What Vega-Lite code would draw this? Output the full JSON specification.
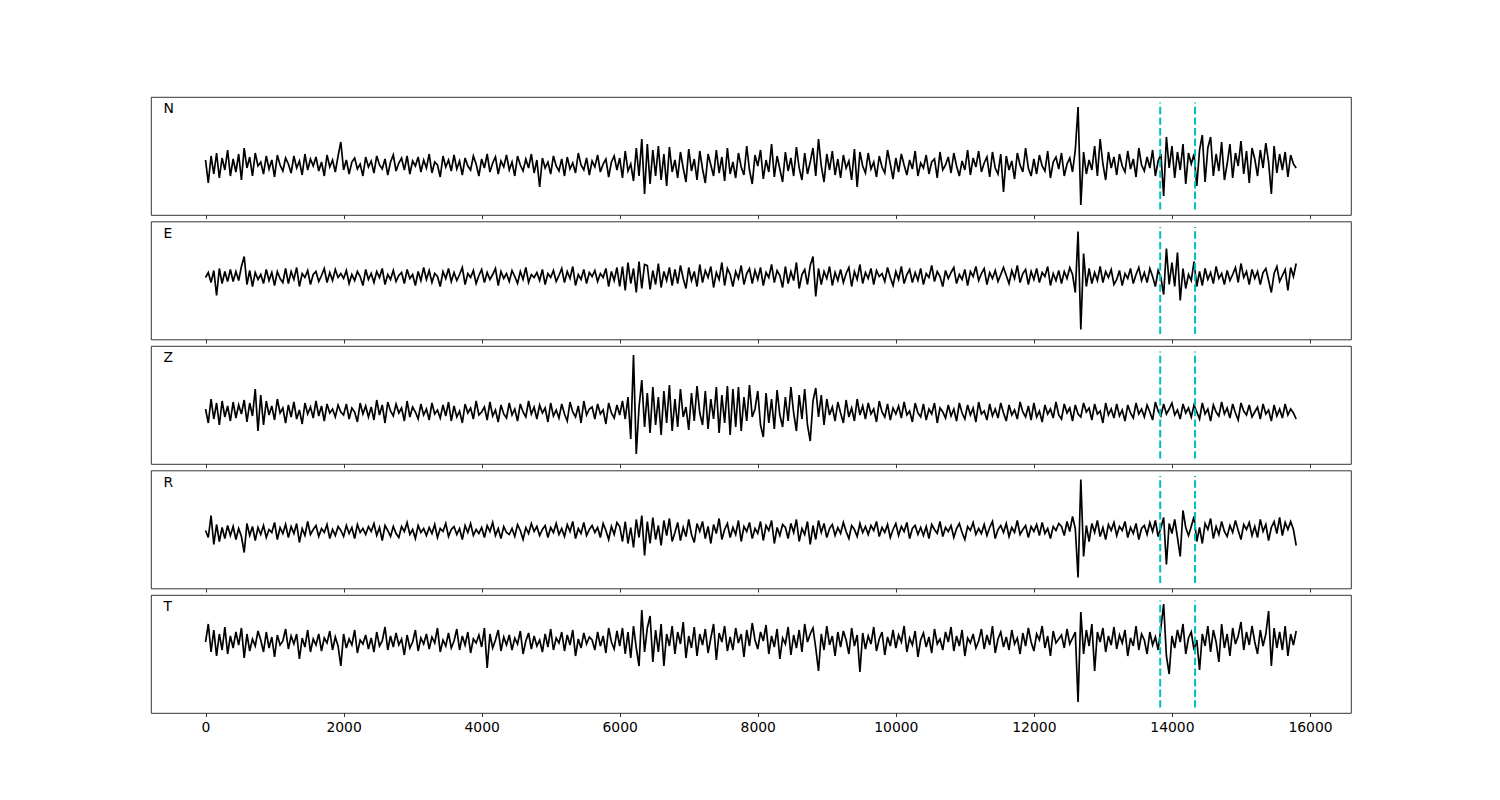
{
"$schema": "https://vega.github.io/schema/vega-lite/v6.json",
"padding": {"left": 150, "top": 96, "right": 0, "bottom": 0},
"background": "white",
"config": {
  "view": {"stroke": "black", "strokeWidth": 0.8},
  "axis": {"domain": false, "grid": false, "tickColor": "black", "tickSize": 3.5, "tickWidth": 0.8, "labelFont": "DejaVu Sans", "labelFontSize": 13.9, "labelColor": "black", "labelPadding": 3.5, "title": null, "format": "d"},
  "concat": {"spacing": 6.5}
},
"bounds": "flush",
"datasets": {
"p": [{"t": 13830, "lo": -53.6, "hi": 53.6}, {"t": 14335, "lo": -53.6, "hi": 53.6}],
"w": [
{"t":0,"N":-4,"E":3,"Z":-4,"R":-1,"T":12},
{"t":40,"N":-27,"E":8,"Z":-18,"R":-8,"T":30},
{"t":80,"N":0,"E":-2,"Z":6,"R":14,"T":2},
{"t":120,"N":-18,"E":10,"Z":-14,"R":-15,"T":24},
{"t":160,"N":3,"E":-15,"Z":2,"R":5,"T":-2},
{"t":200,"N":-22,"E":12,"Z":-20,"R":-12,"T":20},
{"t":240,"N":-2,"E":-3,"Z":4,"R":2,"T":4},
{"t":280,"N":-14,"E":9,"Z":-12,"R":-9,"T":27},
{"t":320,"N":6,"E":-1,"Z":-1,"R":4,"T":0},
{"t":360,"N":-20,"E":11,"Z":-16,"R":-6,"T":18},
{"t":400,"N":-3,"E":-1,"Z":3,"R":3,"T":6},
{"t":440,"N":-16,"E":9,"Z":-13,"R":-10,"T":22},
{"t":480,"N":2,"E":0,"Z":0,"R":1,"T":9},
{"t":520,"N":-24,"E":14,"Z":-9,"R":-7,"T":26},
{"t":560,"N":8,"E":24,"Z":5,"R":-23,"T":-4},
{"t":600,"N":-12,"E":-4,"Z":-17,"R":6,"T":20},
{"t":640,"N":-1,"E":10,"Z":2,"R":-6,"T":3},
{"t":680,"N":-20,"E":-6,"Z":-11,"R":3,"T":15},
{"t":720,"N":3,"E":8,"Z":16,"R":-11,"T":8},
{"t":760,"N":-10,"E":1,"Z":-26,"R":2,"T":23},
{"t":800,"N":-6,"E":6,"Z":10,"R":-5,"T":14},
{"t":840,"N":-18,"E":-3,"Z":-20,"R":4,"T":2},
{"t":880,"N":0,"E":11,"Z":4,"R":-8,"T":22},
{"t":920,"N":-13,"E":0,"Z":-10,"R":0,"T":6},
{"t":960,"N":-4,"E":8,"Z":-1,"R":-3,"T":17},
{"t":1000,"N":-21,"E":-5,"Z":-15,"R":7,"T":-3},
{"t":1040,"N":1,"E":9,"Z":6,"R":-10,"T":19},
{"t":1080,"N":-9,"E":2,"Z":-8,"R":2,"T":9},
{"t":1120,"N":-15,"E":-2,"Z":-3,"R":-4,"T":13},
{"t":1160,"N":-2,"E":12,"Z":-18,"R":5,"T":25},
{"t":1200,"N":-8,"E":-3,"Z":0,"R":-8,"T":5},
{"t":1240,"N":-17,"E":9,"Z":-12,"R":3,"T":18},
{"t":1280,"N":0,"E":1,"Z":3,"R":-4,"T":10},
{"t":1320,"N":-12,"E":13,"Z":-14,"R":6,"T":20},
{"t":1360,"N":-5,"E":-6,"Z":-5,"R":-13,"T":-5},
{"t":1400,"N":-19,"E":7,"Z":-19,"R":1,"T":16},
{"t":1440,"N":2,"E":3,"Z":2,"R":-6,"T":7},
{"t":1480,"N":-14,"E":10,"Z":-9,"R":8,"T":24},
{"t":1520,"N":-3,"E":-4,"Z":-2,"R":-5,"T":2},
{"t":1560,"N":-10,"E":6,"Z":-13,"R":0,"T":15},
{"t":1600,"N":-1,"E":9,"Z":4,"R":4,"T":9},
{"t":1640,"N":-15,"E":-1,"Z":-11,"R":-7,"T":20},
{"t":1680,"N":-6,"E":5,"Z":-1,"R":1,"T":3},
{"t":1720,"N":-20,"E":12,"Z":-16,"R":-3,"T":16},
{"t":1760,"N":1,"E":-2,"Z":1,"R":5,"T":11},
{"t":1800,"N":-11,"E":8,"Z":-8,"R":-9,"T":23},
{"t":1840,"N":-4,"E":0,"Z":-4,"R":0,"T":4},
{"t":1880,"N":-16,"E":11,"Z":-12,"R":-6,"T":17},
{"t":1920,"N":0,"E":3,"Z":0,"R":3,"T":8},
{"t":1960,"N":14,"E":7,"Z":-7,"R":-1,"T":-12},
{"t":2000,"N":-14,"E":2,"Z":-10,"R":-7,"T":20},
{"t":2040,"N":-4,"E":10,"Z":1,"R":4,"T":6},
{"t":2080,"N":-18,"E":-3,"Z":-14,"R":-4,"T":15},
{"t":2120,"N":-6,"E":6,"Z":-3,"R":2,"T":9},
{"t":2160,"N":-2,"E":0,"Z":-7,"R":-9,"T":24},
{"t":2200,"N":-13,"E":9,"Z":-17,"R":5,"T":1},
{"t":2240,"N":-8,"E":4,"Z":2,"R":-3,"T":14},
{"t":2280,"N":-20,"E":-5,"Z":-9,"R":1,"T":10},
{"t":2320,"N":-1,"E":11,"Z":-1,"R":-5,"T":19},
{"t":2360,"N":-11,"E":1,"Z":-12,"R":3,"T":5},
{"t":2400,"N":-5,"E":7,"Z":-2,"R":-2,"T":16},
{"t":2440,"N":-17,"E":-2,"Z":-15,"R":6,"T":2},
{"t":2480,"N":0,"E":9,"Z":5,"R":-6,"T":22},
{"t":2520,"N":-9,"E":3,"Z":-10,"R":2,"T":8},
{"t":2560,"N":-13,"E":12,"Z":0,"R":-11,"T":13},
{"t":2600,"N":-3,"E":-4,"Z":-18,"R":4,"T":27},
{"t":2640,"N":-19,"E":6,"Z":3,"R":-1,"T":4},
{"t":2680,"N":-6,"E":1,"Z":-6,"R":-7,"T":18},
{"t":2720,"N":1,"E":10,"Z":-11,"R":3,"T":7},
{"t":2760,"N":-15,"E":-1,"Z":1,"R":-4,"T":21},
{"t":2800,"N":-7,"E":5,"Z":-8,"R":-8,"T":9},
{"t":2840,"N":-2,"E":8,"Z":-3,"R":3,"T":15},
{"t":2880,"N":-14,"E":-3,"Z":-16,"R":-2,"T":-1},
{"t":2920,"N":0,"E":11,"Z":4,"R":7,"T":19},
{"t":2960,"N":-18,"E":2,"Z":-12,"R":-5,"T":6},
{"t":3000,"N":-5,"E":6,"Z":-2,"R":0,"T":12},
{"t":3040,"N":-10,"E":-5,"Z":-7,"R":-9,"T":24},
{"t":3080,"N":-1,"E":9,"Z":-14,"R":4,"T":3},
{"t":3120,"N":-16,"E":0,"Z":1,"R":-3,"T":16},
{"t":3160,"N":-4,"E":13,"Z":-10,"R":1,"T":10},
{"t":3200,"N":-12,"E":1,"Z":-4,"R":-6,"T":20},
{"t":3240,"N":2,"E":10,"Z":-15,"R":2,"T":5},
{"t":3280,"N":-17,"E":-2,"Z":2,"R":-4,"T":17},
{"t":3320,"N":-6,"E":7,"Z":-9,"R":5,"T":11},
{"t":3360,"N":-9,"E":4,"Z":-5,"R":-8,"T":26},
{"t":3400,"N":-21,"E":-6,"Z":-13,"R":1,"T":2},
{"t":3440,"N":0,"E":9,"Z":0,"R":-2,"T":14},
{"t":3480,"N":-11,"E":2,"Z":-11,"R":6,"T":8},
{"t":3520,"N":-4,"E":12,"Z":3,"R":-7,"T":21},
{"t":3560,"N":-15,"E":-1,"Z":-16,"R":0,"T":6},
{"t":3600,"N":1,"E":8,"Z":-1,"R":3,"T":13},
{"t":3640,"N":-13,"E":0,"Z":-12,"R":-5,"T":25},
{"t":3680,"N":-5,"E":6,"Z":-6,"R":1,"T":4},
{"t":3720,"N":-19,"E":13,"Z":-18,"R":-10,"T":18},
{"t":3760,"N":-2,"E":-4,"Z":1,"R":4,"T":9},
{"t":3800,"N":-10,"E":7,"Z":-8,"R":-3,"T":22},
{"t":3840,"N":-14,"E":3,"Z":-3,"R":6,"T":1},
{"t":3880,"N":0,"E":10,"Z":-14,"R":-6,"T":15},
{"t":3920,"N":-8,"E":-3,"Z":4,"R":0,"T":11},
{"t":3960,"N":-20,"E":5,"Z":-10,"R":-4,"T":19},
{"t":4000,"N":-3,"E":11,"Z":-7,"R":2,"T":7},
{"t":4040,"N":-12,"E":-2,"Z":-2,"R":-8,"T":26},
{"t":4080,"N":2,"E":8,"Z":-15,"R":4,"T":-14},
{"t":4120,"N":-16,"E":1,"Z":3,"R":-2,"T":20},
{"t":4160,"N":-7,"E":6,"Z":-11,"R":7,"T":6},
{"t":4200,"N":-1,"E":12,"Z":-5,"R":-6,"T":14},
{"t":4240,"N":-18,"E":-5,"Z":-17,"R":1,"T":24},
{"t":4280,"N":-5,"E":9,"Z":0,"R":-9,"T":3},
{"t":4320,"N":-11,"E":2,"Z":-9,"R":3,"T":17},
{"t":4360,"N":1,"E":7,"Z":-13,"R":-3,"T":9},
{"t":4400,"N":-14,"E":-1,"Z":2,"R":-5,"T":19},
{"t":4440,"N":-6,"E":10,"Z":-10,"R":1,"T":4},
{"t":4480,"N":-20,"E":4,"Z":-4,"R":-7,"T":16},
{"t":4520,"N":0,"E":-3,"Z":-16,"R":5,"T":10},
{"t":4560,"N":-9,"E":9,"Z":1,"R":-1,"T":23},
{"t":4600,"N":-15,"E":1,"Z":-7,"R":-10,"T":0},
{"t":4640,"N":-3,"E":13,"Z":-12,"R":2,"T":13},
{"t":4680,"N":-12,"E":-2,"Z":4,"R":-4,"T":21},
{"t":4720,"N":2,"E":6,"Z":-9,"R":6,"T":5},
{"t":4760,"N":-17,"E":3,"Z":-2,"R":-2,"T":18},
{"t":4800,"N":-4,"E":8,"Z":-14,"R":3,"T":8},
{"t":4840,"N":-31,"E":0,"Z":0,"R":-6,"T":14},
{"t":4880,"N":-2,"E":11,"Z":-8,"R":0,"T":2},
{"t":4920,"N":-12,"E":-4,"Z":-3,"R":4,"T":20},
{"t":4960,"N":-6,"E":7,"Z":-17,"R":-8,"T":7},
{"t":5000,"N":-18,"E":3,"Z":2,"R":2,"T":25},
{"t":5040,"N":0,"E":10,"Z":-11,"R":-3,"T":4},
{"t":5080,"N":-10,"E":-1,"Z":-5,"R":6,"T":16},
{"t":5120,"N":-15,"E":5,"Z":-13,"R":-5,"T":11},
{"t":5160,"N":-3,"E":12,"Z":1,"R":1,"T":22},
{"t":5200,"N":-20,"E":-2,"Z":-9,"R":-7,"T":3},
{"t":5240,"N":-1,"E":9,"Z":-16,"R":5,"T":19},
{"t":5280,"N":-13,"E":2,"Z":3,"R":-2,"T":9},
{"t":5320,"N":-7,"E":14,"Z":-7,"R":8,"T":24},
{"t":5360,"N":-17,"E":-5,"Z":-12,"R":-9,"T":-2},
{"t":5400,"N":3,"E":6,"Z":-1,"R":1,"T":15},
{"t":5440,"N":-9,"E":1,"Z":-18,"R":-4,"T":6},
{"t":5480,"N":-14,"E":11,"Z":4,"R":7,"T":21},
{"t":5520,"N":-2,"E":-3,"Z":-10,"R":-6,"T":10},
{"t":5560,"N":-19,"E":8,"Z":-4,"R":0,"T":17},
{"t":5600,"N":-5,"E":4,"Z":-2,"R":4,"T":14},
{"t":5640,"N":-11,"E":10,"Z":-14,"R":-3,"T":4},
{"t":5680,"N":1,"E":-1,"Z":1,"R":2,"T":22},
{"t":5720,"N":-16,"E":7,"Z":-9,"R":-8,"T":8},
{"t":5760,"N":-8,"E":3,"Z":-5,"R":6,"T":18},
{"t":5800,"N":-3,"E":12,"Z":-19,"R":-1,"T":1},
{"t":5840,"N":-21,"E":-6,"Z":2,"R":-10,"T":26},
{"t":5880,"N":-6,"E":9,"Z":-8,"R":3,"T":12},
{"t":5920,"N":0,"E":0,"Z":-13,"R":-5,"T":5},
{"t":5960,"N":-14,"E":13,"Z":0,"R":7,"T":23},
{"t":6000,"N":-2,"E":-6,"Z":-10,"R":3,"T":8},
{"t":6040,"N":-22,"E":14,"Z":4,"R":-12,"T":26},
{"t":6080,"N":5,"E":-10,"Z":-14,"R":8,"T":0},
{"t":6120,"N":-15,"E":18,"Z":8,"R":-14,"T":22},
{"t":6160,"N":-8,"E":-3,"Z":-34,"R":2,"T":-4},
{"t":6200,"N":-25,"E":12,"Z":50,"R":-18,"T":28},
{"t":6240,"N":8,"E":-12,"Z":-49,"R":10,"T":6},
{"t":6280,"N":-20,"E":19,"Z":-2,"R":-8,"T":-12},
{"t":6320,"N":17,"E":-8,"Z":25,"R":14,"T":44},
{"t":6360,"N":-38,"E":16,"Z":-22,"R":-26,"T":2},
{"t":6400,"N":12,"E":15,"Z":12,"R":8,"T":26},
{"t":6440,"N":-28,"E":-9,"Z":-28,"R":-14,"T":38},
{"t":6480,"N":6,"E":10,"Z":18,"R":12,"T":-8},
{"t":6520,"N":-20,"E":-4,"Z":-20,"R":-10,"T":24},
{"t":6560,"N":10,"E":17,"Z":8,"R":4,"T":2},
{"t":6600,"N":-24,"E":-7,"Z":-30,"R":-16,"T":30},
{"t":6640,"N":2,"E":9,"Z":14,"R":9,"T":-12},
{"t":6680,"N":-30,"E":0,"Z":-18,"R":-6,"T":20},
{"t":6720,"N":9,"E":13,"Z":20,"R":11,"T":8},
{"t":6760,"N":-16,"E":-5,"Z":-26,"R":-12,"T":28},
{"t":6800,"N":-4,"E":11,"Z":6,"R":-3,"T":0},
{"t":6840,"N":-22,"E":-3,"Z":-22,"R":7,"T":22},
{"t":6880,"N":4,"E":15,"Z":16,"R":-11,"T":10},
{"t":6920,"N":-12,"E":2,"Z":-12,"R":2,"T":32},
{"t":6960,"N":-26,"E":-8,"Z":-2,"R":-7,"T":-4},
{"t":7000,"N":7,"E":13,"Z":-25,"R":10,"T":18},
{"t":7040,"N":-15,"E":0,"Z":12,"R":-5,"T":6},
{"t":7080,"N":-3,"E":9,"Z":-16,"R":-13,"T":27},
{"t":7120,"N":-24,"E":-6,"Z":19,"R":6,"T":-2},
{"t":7160,"N":5,"E":16,"Z":-8,"R":-2,"T":20},
{"t":7200,"N":-13,"E":-2,"Z":-20,"R":8,"T":9},
{"t":7240,"N":-27,"E":10,"Z":14,"R":-9,"T":25},
{"t":7280,"N":2,"E":3,"Z":-24,"R":3,"T":1},
{"t":7320,"N":-9,"E":14,"Z":6,"R":-14,"T":16},
{"t":7360,"N":-20,"E":-7,"Z":-14,"R":5,"T":30},
{"t":7400,"N":6,"E":8,"Z":18,"R":-4,"T":-6},
{"t":7440,"N":-17,"E":1,"Z":-28,"R":11,"T":21},
{"t":7480,"N":-1,"E":18,"Z":10,"R":-10,"T":12},
{"t":7520,"N":-25,"E":-5,"Z":-18,"R":0,"T":28},
{"t":7560,"N":8,"E":12,"Z":19,"R":6,"T":3},
{"t":7600,"N":-18,"E":6,"Z":-30,"R":-8,"T":17},
{"t":7640,"N":-6,"E":-6,"Z":16,"R":2,"T":4},
{"t":7680,"N":-22,"E":9,"Z":-22,"R":-5,"T":26},
{"t":7720,"N":3,"E":2,"Z":18,"R":9,"T":11},
{"t":7760,"N":-11,"E":15,"Z":-26,"R":-12,"T":20},
{"t":7800,"N":-19,"E":-4,"Z":8,"R":3,"T":-3},
{"t":7840,"N":10,"E":7,"Z":-16,"R":-2,"T":24},
{"t":7880,"N":-14,"E":12,"Z":20,"R":7,"T":8},
{"t":7920,"N":-28,"E":-3,"Z":-12,"R":-9,"T":31},
{"t":7960,"N":1,"E":10,"Z":-4,"R":1,"T":14},
{"t":8000,"N":-10,"E":1,"Z":14,"R":-4,"T":5},
{"t":8040,"N":6,"E":13,"Z":-20,"R":8,"T":22},
{"t":8080,"N":-23,"E":-5,"Z":-32,"R":-11,"T":13},
{"t":8120,"N":-4,"E":8,"Z":12,"R":4,"T":29},
{"t":8160,"N":-16,"E":3,"Z":-18,"R":-1,"T":0},
{"t":8200,"N":12,"E":16,"Z":6,"R":9,"T":18},
{"t":8240,"N":-21,"E":-2,"Z":-24,"R":-14,"T":7},
{"t":8280,"N":0,"E":10,"Z":15,"R":2,"T":25},
{"t":8320,"N":-13,"E":5,"Z":-10,"R":-6,"T":-5},
{"t":8360,"N":-26,"E":-7,"Z":-22,"R":5,"T":16},
{"t":8400,"N":4,"E":14,"Z":8,"R":2,"T":10},
{"t":8440,"N":-15,"E":-3,"Z":-16,"R":-9,"T":27},
{"t":8480,"N":-2,"E":9,"Z":18,"R":6,"T":-1},
{"t":8520,"N":-20,"E":0,"Z":-8,"R":-3,"T":19},
{"t":8560,"N":9,"E":18,"Z":-26,"R":10,"T":6},
{"t":8600,"N":-12,"E":-8,"Z":10,"R":-12,"T":24},
{"t":8640,"N":-24,"E":6,"Z":-14,"R":1,"T":2},
{"t":8680,"N":3,"E":11,"Z":16,"R":-5,"T":30},
{"t":8720,"N":-18,"E":-4,"Z":-20,"R":8,"T":12},
{"t":8760,"N":-6,"E":15,"Z":-36,"R":-15,"T":20},
{"t":8800,"N":8,"E":24,"Z":4,"R":4,"T":26},
{"t":8840,"N":-20,"E":-16,"Z":17,"R":-10,"T":6},
{"t":8880,"N":17,"E":12,"Z":-12,"R":9,"T":-17},
{"t":8920,"N":-10,"E":-4,"Z":10,"R":-3,"T":20},
{"t":8960,"N":-26,"E":9,"Z":-20,"R":6,"T":4},
{"t":9000,"N":2,"E":2,"Z":6,"R":-8,"T":28},
{"t":9040,"N":-14,"E":14,"Z":-10,"R":1,"T":9},
{"t":9080,"N":5,"E":-5,"Z":-2,"R":5,"T":18},
{"t":9120,"N":-19,"E":8,"Z":-16,"R":-6,"T":-2},
{"t":9160,"N":-3,"E":0,"Z":3,"R":2,"T":22},
{"t":9200,"N":-22,"E":11,"Z":-8,"R":-4,"T":7},
{"t":9240,"N":1,"E":-2,"Z":-18,"R":7,"T":23},
{"t":9280,"N":-12,"E":7,"Z":5,"R":-2,"T":14},
{"t":9320,"N":-5,"E":13,"Z":-12,"R":-9,"T":0},
{"t":9360,"N":-24,"E":-6,"Z":-3,"R":4,"T":26},
{"t":9400,"N":7,"E":9,"Z":-16,"R":0,"T":8},
{"t":9440,"N":-31,"E":1,"Z":6,"R":-7,"T":19},
{"t":9480,"N":4,"E":16,"Z":-10,"R":6,"T":-18},
{"t":9520,"N":-10,"E":-3,"Z":-1,"R":-3,"T":21},
{"t":9560,"N":-17,"E":8,"Z":-14,"R":3,"T":5},
{"t":9600,"N":3,"E":2,"Z":2,"R":-5,"T":18},
{"t":9640,"N":-13,"E":12,"Z":-9,"R":4,"T":10},
{"t":9680,"N":-6,"E":-4,"Z":-4,"R":-1,"T":27},
{"t":9720,"N":-21,"E":10,"Z":-17,"R":8,"T":3},
{"t":9760,"N":0,"E":4,"Z":4,"R":-7,"T":15},
{"t":9800,"N":-11,"E":7,"Z":-7,"R":2,"T":22},
{"t":9840,"N":-17,"E":-1,"Z":-12,"R":-3,"T":-1},
{"t":9880,"N":6,"E":13,"Z":1,"R":5,"T":17},
{"t":9920,"N":-8,"E":3,"Z":-15,"R":-8,"T":8},
{"t":9960,"N":-23,"E":-5,"Z":-3,"R":0,"T":24},
{"t":10000,"N":-2,"E":9,"Z":-9,"R":6,"T":6},
{"t":10040,"N":-16,"E":1,"Z":-1,"R":-6,"T":19},
{"t":10080,"N":2,"E":14,"Z":-13,"R":3,"T":12},
{"t":10120,"N":-9,"E":-3,"Z":3,"R":-2,"T":28},
{"t":10160,"N":-19,"E":6,"Z":-10,"R":7,"T":2},
{"t":10200,"N":-4,"E":11,"Z":-6,"R":-9,"T":16},
{"t":10240,"N":-13,"E":-2,"Z":-17,"R":1,"T":9},
{"t":10280,"N":5,"E":8,"Z":2,"R":4,"T":23},
{"t":10320,"N":-20,"E":0,"Z":-8,"R":-5,"T":-3},
{"t":10360,"N":-7,"E":12,"Z":-12,"R":2,"T":14},
{"t":10400,"N":-12,"E":-4,"Z":1,"R":-6,"T":21},
{"t":10440,"N":1,"E":7,"Z":-15,"R":3,"T":7},
{"t":10480,"N":-18,"E":3,"Z":-4,"R":-9,"T":17},
{"t":10520,"N":-6,"E":15,"Z":-9,"R":5,"T":1},
{"t":10560,"N":-3,"E":-1,"Z":2,"R":0,"T":25},
{"t":10600,"N":-22,"E":9,"Z":-18,"R":-4,"T":10},
{"t":10640,"N":4,"E":4,"Z":-3,"R":8,"T":15},
{"t":10680,"N":-14,"E":-6,"Z":-7,"R":-7,"T":4},
{"t":10720,"N":-9,"E":10,"Z":-13,"R":2,"T":22},
{"t":10760,"N":-1,"E":2,"Z":0,"R":-2,"T":12},
{"t":10800,"N":-17,"E":8,"Z":-11,"R":4,"T":27},
{"t":10840,"N":3,"E":13,"Z":-4,"R":-8,"T":3},
{"t":10880,"N":-10,"E":-3,"Z":-16,"R":1,"T":18},
{"t":10920,"N":-20,"E":6,"Z":2,"R":6,"T":8},
{"t":10960,"N":-5,"E":1,"Z":-8,"R":-3,"T":24},
{"t":11000,"N":-14,"E":11,"Z":-14,"R":-10,"T":-2},
{"t":11040,"N":6,"E":-5,"Z":0,"R":3,"T":16},
{"t":11080,"N":-19,"E":9,"Z":-10,"R":-1,"T":11},
{"t":11120,"N":-2,"E":4,"Z":-3,"R":7,"T":20},
{"t":11160,"N":-11,"E":14,"Z":-17,"R":-5,"T":6},
{"t":11200,"N":5,"E":0,"Z":3,"R":1,"T":13},
{"t":11240,"N":-16,"E":7,"Z":-9,"R":-4,"T":25},
{"t":11280,"N":-7,"E":12,"Z":-6,"R":5,"T":5},
{"t":11320,"N":-1,"E":-4,"Z":-15,"R":-6,"T":19},
{"t":11360,"N":-21,"E":8,"Z":1,"R":2,"T":9},
{"t":11400,"N":4,"E":2,"Z":-11,"R":8,"T":28},
{"t":11440,"N":-12,"E":10,"Z":-4,"R":-9,"T":1},
{"t":11480,"N":-18,"E":-1,"Z":-13,"R":0,"T":15},
{"t":11520,"N":2,"E":6,"Z":2,"R":4,"T":22},
{"t":11560,"N":-36,"E":13,"Z":-8,"R":-3,"T":7},
{"t":11600,"N":0,"E":5,"Z":-16,"R":6,"T":17},
{"t":11640,"N":-14,"E":-3,"Z":0,"R":-7,"T":4},
{"t":11680,"N":-5,"E":10,"Z":-10,"R":2,"T":24},
{"t":11720,"N":-23,"E":2,"Z":-5,"R":-3,"T":10},
{"t":11760,"N":3,"E":15,"Z":-14,"R":9,"T":16},
{"t":11800,"N":-9,"E":-2,"Z":3,"R":-5,"T":0},
{"t":11840,"N":-16,"E":7,"Z":-7,"R":0,"T":21},
{"t":11880,"N":8,"E":11,"Z":-12,"R":4,"T":8},
{"t":11920,"N":-12,"E":-4,"Z":-1,"R":-8,"T":26},
{"t":11960,"N":-20,"E":9,"Z":-15,"R":3,"T":12},
{"t":12000,"N":-3,"E":1,"Z":2,"R":-2,"T":3},
{"t":12040,"N":-18,"E":12,"Z":-12,"R":5,"T":20},
{"t":12080,"N":1,"E":-2,"Z":-6,"R":-6,"T":14},
{"t":12120,"N":-10,"E":8,"Z":-17,"R":7,"T":28},
{"t":12160,"N":-15,"E":4,"Z":0,"R":-4,"T":6},
{"t":12200,"N":5,"E":14,"Z":-9,"R":1,"T":18},
{"t":12240,"N":-22,"E":-5,"Z":-4,"R":-9,"T":-2},
{"t":12280,"N":-6,"E":7,"Z":-13,"R":3,"T":23},
{"t":12320,"N":-1,"E":0,"Z":3,"R":-1,"T":11},
{"t":12360,"N":-13,"E":10,"Z":-10,"R":6,"T":15},
{"t":12400,"N":3,"E":-3,"Z":-14,"R":3,"T":19},
{"t":12440,"N":-20,"E":9,"Z":1,"R":-6,"T":6},
{"t":12480,"N":-8,"E":2,"Z":-8,"R":8,"T":25},
{"t":12520,"N":-2,"E":13,"Z":-3,"R":-2,"T":10},
{"t":12560,"N":-16,"E":6,"Z":-16,"R":13,"T":16},
{"t":12600,"N":6,"E":-12,"Z":0,"R":1,"T":22},
{"t":12640,"N":49,"E":49,"Z":-9,"R":-48,"T":-48},
{"t":12680,"N":-49,"E":-49,"Z":-12,"R":50,"T":42},
{"t":12720,"N":4,"E":27,"Z":2,"R":-27,"T":0},
{"t":12760,"N":-18,"E":-6,"Z":-7,"R":4,"T":24},
{"t":12800,"N":-4,"E":12,"Z":-3,"R":-12,"T":8},
{"t":12840,"N":-14,"E":-3,"Z":-15,"R":6,"T":30},
{"t":12880,"N":10,"E":8,"Z":1,"R":-3,"T":-17},
{"t":12920,"N":-20,"E":0,"Z":-9,"R":9,"T":22},
{"t":12960,"N":17,"E":14,"Z":-6,"R":-7,"T":12},
{"t":13000,"N":-8,"E":-2,"Z":-18,"R":2,"T":26},
{"t":13040,"N":-24,"E":9,"Z":2,"R":-10,"T":2},
{"t":13080,"N":4,"E":3,"Z":-10,"R":5,"T":18},
{"t":13120,"N":-12,"E":11,"Z":-4,"R":-1,"T":9},
{"t":13160,"N":-1,"E":-4,"Z":-13,"R":7,"T":27},
{"t":13200,"N":-19,"E":1,"Z":1,"R":-6,"T":5},
{"t":13240,"N":2,"E":10,"Z":-11,"R":3,"T":19},
{"t":13280,"N":-10,"E":-5,"Z":-5,"R":-1,"T":11},
{"t":13320,"N":-16,"E":7,"Z":-16,"R":8,"T":24},
{"t":13360,"N":5,"E":2,"Z":0,"R":-8,"T":-2},
{"t":13400,"N":-13,"E":12,"Z":-8,"R":2,"T":16},
{"t":13440,"N":-3,"E":-3,"Z":-13,"R":-4,"T":8},
{"t":13480,"N":-21,"E":6,"Z":2,"R":6,"T":28},
{"t":13520,"N":8,"E":13,"Z":-9,"R":-10,"T":4},
{"t":13560,"N":-9,"E":0,"Z":-4,"R":1,"T":20},
{"t":13600,"N":-15,"E":8,"Z":-12,"R":4,"T":14},
{"t":13640,"N":-1,"E":-2,"Z":0,"R":-5,"T":0},
{"t":13680,"N":-12,"E":12,"Z":-7,"R":7,"T":22},
{"t":13720,"N":6,"E":4,"Z":-15,"R":-2,"T":9},
{"t":13760,"N":-20,"E":-6,"Z":3,"R":9,"T":17},
{"t":13800,"N":-5,"E":10,"Z":-6,"R":-7,"T":4},
{"t":13840,"N":2,"E":3,"Z":-11,"R":2,"T":26},
{"t":13880,"N":-40,"E":-14,"Z":1,"R":12,"T":50},
{"t":13920,"N":19,"E":32,"Z":-9,"R":-35,"T":-2},
{"t":13960,"N":-12,"E":-4,"Z":-4,"R":6,"T":-20},
{"t":14000,"N":10,"E":18,"Z":2,"R":-4,"T":18},
{"t":14040,"N":-22,"E":-6,"Z":-10,"R":10,"T":6},
{"t":14080,"N":4,"E":28,"Z":-5,"R":-8,"T":24},
{"t":14120,"N":-14,"E":-20,"Z":-14,"R":-27,"T":12},
{"t":14160,"N":12,"E":12,"Z":1,"R":19,"T":30},
{"t":14200,"N":-28,"E":-8,"Z":-8,"R":2,"T":0},
{"t":14240,"N":3,"E":6,"Z":-3,"R":-6,"T":16},
{"t":14280,"N":-8,"E":0,"Z":-12,"R":3,"T":22},
{"t":14320,"N":2,"E":19,"Z":0,"R":13,"T":4},
{"t":14360,"N":-30,"E":-6,"Z":-7,"R":-12,"T":14},
{"t":14400,"N":6,"E":9,"Z":-14,"R":2,"T":-16},
{"t":14440,"N":21,"E":-5,"Z":2,"R":-14,"T":20},
{"t":14480,"N":-26,"E":12,"Z":-9,"R":6,"T":8},
{"t":14520,"N":8,"E":1,"Z":-4,"R":0,"T":28},
{"t":14560,"N":19,"E":8,"Z":-16,"R":11,"T":2},
{"t":14600,"N":-20,"E":-3,"Z":0,"R":-9,"T":24},
{"t":14640,"N":2,"E":14,"Z":-7,"R":3,"T":12},
{"t":14680,"N":-15,"E":2,"Z":-11,"R":-5,"T":-8},
{"t":14720,"N":14,"E":7,"Z":3,"R":8,"T":30},
{"t":14760,"N":-24,"E":-4,"Z":-9,"R":-2,"T":6},
{"t":14800,"N":-8,"E":10,"Z":-3,"R":-7,"T":20},
{"t":14840,"N":12,"E":0,"Z":-13,"R":4,"T":-2},
{"t":14880,"N":-22,"E":6,"Z":1,"R":-3,"T":26},
{"t":14920,"N":3,"E":13,"Z":-8,"R":9,"T":10},
{"t":14960,"N":-10,"E":-2,"Z":-15,"R":-1,"T":18},
{"t":15000,"N":15,"E":17,"Z":2,"R":-10,"T":32},
{"t":15040,"N":-18,"E":3,"Z":-6,"R":5,"T":4},
{"t":15080,"N":5,"E":9,"Z":-10,"R":0,"T":22},
{"t":15120,"N":-27,"E":-4,"Z":0,"R":7,"T":9},
{"t":15160,"N":8,"E":11,"Z":-12,"R":-6,"T":28},
{"t":15200,"N":-3,"E":2,"Z":-7,"R":3,"T":12},
{"t":15240,"N":-20,"E":9,"Z":-2,"R":-8,"T":0},
{"t":15280,"N":6,"E":-4,"Z":-14,"R":10,"T":24},
{"t":15320,"N":-12,"E":8,"Z":1,"R":-2,"T":8},
{"t":15360,"N":13,"E":12,"Z":-9,"R":5,"T":20},
{"t":15400,"N":-6,"E":0,"Z":-5,"R":-11,"T":43},
{"t":15440,"N":-38,"E":-12,"Z":-16,"R":2,"T":-12},
{"t":15480,"N":10,"E":7,"Z":0,"R":8,"T":26},
{"t":15520,"N":-17,"E":14,"Z":-11,"R":-4,"T":6},
{"t":15560,"N":2,"E":-1,"Z":-4,"R":12,"T":22},
{"t":15600,"N":-14,"E":5,"Z":-13,"R":-6,"T":4},
{"t":15640,"N":4,"E":11,"Z":1,"R":7,"T":28},
{"t":15680,"N":-21,"E":-10,"Z":-10,"R":0,"T":-2},
{"t":15720,"N":1,"E":13,"Z":-4,"R":8,"T":20},
{"t":15760,"N":-8,"E":4,"Z":-8,"R":0,"T":9},
{"t":15800,"N":-12,"E":17,"Z":-14,"R":-16,"T":23}
]
},
"vconcat": [
{"width":1200,"height":118,"layer":[
 {"data":{"name":"w"},"mark":{"type":"line","color":"black","strokeWidth":1.7},"encoding":{"x":{"field":"t","type":"quantitative","scale":{"domain":[-790,16594],"nice":false,"zero":false},"axis":{"values":[0,2000,4000,6000,8000,10000,12000,14000,16000],"labels":false}},"y":{"field":"N","type":"quantitative","scale":{"domain":[-59,59],"nice":false,"zero":false},"axis":null}}},
 {"data":{"name":"p"},"mark":{"type":"rule","color":"#00bfbf","strokeWidth":2,"strokeDash":[7.4,3.2]},"encoding":{"x":{"field":"t","type":"quantitative"},"y":{"field":"lo","type":"quantitative"},"y2":{"field":"hi"}}},
 {"data":{"values":[{"t":-610,"a":47,"s":"N"}]},"mark":{"type":"text","align":"left","baseline":"middle","fontSize":13.9,"font":"DejaVu Sans","color":"black"},"encoding":{"x":{"field":"t","type":"quantitative"},"y":{"field":"a","type":"quantitative"},"text":{"field":"s"}}}
]},
{"width":1200,"height":118,"layer":[
 {"data":{"name":"w"},"mark":{"type":"line","color":"black","strokeWidth":1.7},"encoding":{"x":{"field":"t","type":"quantitative","scale":{"domain":[-790,16594],"nice":false,"zero":false},"axis":{"values":[0,2000,4000,6000,8000,10000,12000,14000,16000],"labels":false}},"y":{"field":"E","type":"quantitative","scale":{"domain":[-59,59],"nice":false,"zero":false},"axis":null}}},
 {"data":{"name":"p"},"mark":{"type":"rule","color":"#00bfbf","strokeWidth":2,"strokeDash":[7.4,3.2]},"encoding":{"x":{"field":"t","type":"quantitative"},"y":{"field":"lo","type":"quantitative"},"y2":{"field":"hi"}}},
 {"data":{"values":[{"t":-610,"a":47,"s":"E"}]},"mark":{"type":"text","align":"left","baseline":"middle","fontSize":13.9,"font":"DejaVu Sans","color":"black"},"encoding":{"x":{"field":"t","type":"quantitative"},"y":{"field":"a","type":"quantitative"},"text":{"field":"s"}}}
]},
{"width":1200,"height":118,"layer":[
 {"data":{"name":"w"},"mark":{"type":"line","color":"black","strokeWidth":1.7},"encoding":{"x":{"field":"t","type":"quantitative","scale":{"domain":[-790,16594],"nice":false,"zero":false},"axis":{"values":[0,2000,4000,6000,8000,10000,12000,14000,16000],"labels":false}},"y":{"field":"Z","type":"quantitative","scale":{"domain":[-59,59],"nice":false,"zero":false},"axis":null}}},
 {"data":{"name":"p"},"mark":{"type":"rule","color":"#00bfbf","strokeWidth":2,"strokeDash":[7.4,3.2]},"encoding":{"x":{"field":"t","type":"quantitative"},"y":{"field":"lo","type":"quantitative"},"y2":{"field":"hi"}}},
 {"data":{"values":[{"t":-610,"a":47,"s":"Z"}]},"mark":{"type":"text","align":"left","baseline":"middle","fontSize":13.9,"font":"DejaVu Sans","color":"black"},"encoding":{"x":{"field":"t","type":"quantitative"},"y":{"field":"a","type":"quantitative"},"text":{"field":"s"}}}
]},
{"width":1200,"height":118,"layer":[
 {"data":{"name":"w"},"mark":{"type":"line","color":"black","strokeWidth":1.7},"encoding":{"x":{"field":"t","type":"quantitative","scale":{"domain":[-790,16594],"nice":false,"zero":false},"axis":{"values":[0,2000,4000,6000,8000,10000,12000,14000,16000],"labels":false}},"y":{"field":"R","type":"quantitative","scale":{"domain":[-59,59],"nice":false,"zero":false},"axis":null}}},
 {"data":{"name":"p"},"mark":{"type":"rule","color":"#00bfbf","strokeWidth":2,"strokeDash":[7.4,3.2]},"encoding":{"x":{"field":"t","type":"quantitative"},"y":{"field":"lo","type":"quantitative"},"y2":{"field":"hi"}}},
 {"data":{"values":[{"t":-610,"a":47,"s":"R"}]},"mark":{"type":"text","align":"left","baseline":"middle","fontSize":13.9,"font":"DejaVu Sans","color":"black"},"encoding":{"x":{"field":"t","type":"quantitative"},"y":{"field":"a","type":"quantitative"},"text":{"field":"s"}}}
]},
{"width":1200,"height":118,"layer":[
 {"data":{"name":"w"},"mark":{"type":"line","color":"black","strokeWidth":1.7},"encoding":{"x":{"field":"t","type":"quantitative","scale":{"domain":[-790,16594],"nice":false,"zero":false},"axis":{"values":[0,2000,4000,6000,8000,10000,12000,14000,16000],"labels":true,"format":"d"}},"y":{"field":"T","type":"quantitative","scale":{"domain":[-59,59],"nice":false,"zero":false},"axis":null}}},
 {"data":{"name":"p"},"mark":{"type":"rule","color":"#00bfbf","strokeWidth":2,"strokeDash":[7.4,3.2]},"encoding":{"x":{"field":"t","type":"quantitative"},"y":{"field":"lo","type":"quantitative"},"y2":{"field":"hi"}}},
 {"data":{"values":[{"t":-610,"a":47,"s":"T"}]},"mark":{"type":"text","align":"left","baseline":"middle","fontSize":13.9,"font":"DejaVu Sans","color":"black"},"encoding":{"x":{"field":"t","type":"quantitative"},"y":{"field":"a","type":"quantitative"},"text":{"field":"s"}}}
]}
]
}
